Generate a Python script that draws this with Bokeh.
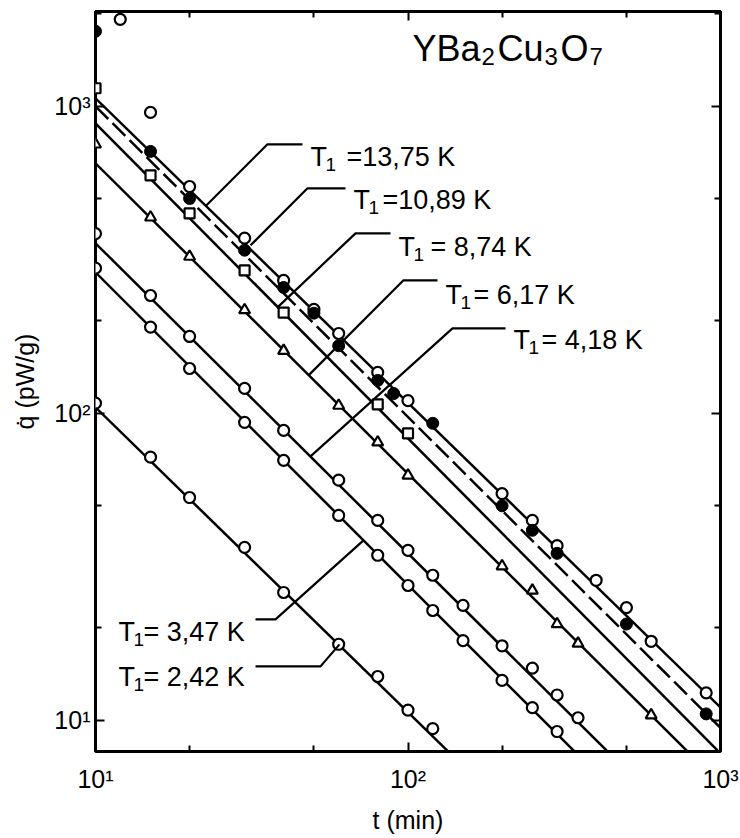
import numpy as np
from bokeh.plotting import figure
from bokeh.models import FixedTicker, LogAxis, Label
from bokeh.embed import file_html
from bokeh.resources import INLINE

# ---------------- data ----------------
t_1375 = [12, 15, 20, 30, 40, 50, 60, 80, 100, 200, 250, 300, 400, 500, 600, 900]
q_1375 = [1920, 955, 548, 372, 271, 218, 182, 136, 110, 54.8, 44.8, 37.1, 28.6, 23.3, 18.1, 12.3]

t_1089 = [10, 15, 20, 30, 40, 50, 60, 80, 90, 120, 200, 250, 300, 500, 900]
q_1089 = [1755, 713, 501, 340, 257, 212, 166, 128, 116, 92.8, 50, 41.6, 35, 20.6, 10.5]

t_874 = [10, 15, 20, 30, 40, 80, 100]
q_874 = [1145, 596, 448, 292, 213, 107, 86]

t_617 = [10, 15, 20, 30, 40, 60, 80, 100, 200, 250, 300, 350, 600]
q_617 = [752, 435, 324, 217, 160, 106, 80.5, 62.8, 31.8, 26.5, 20.6, 17.8, 10.4]

t_418 = [10, 15, 20, 30, 40, 60, 80, 100, 120, 150, 200, 250, 300, 350]
q_418 = [385, 242, 178, 120.6, 88, 60.6, 44.8, 35.8, 29.7, 23.7, 17.5, 14.8, 12.1, 10.2]

t_347 = [10, 15, 20, 30, 40, 60, 80, 100, 120, 150, 200, 250, 300]
q_347 = [297, 191, 140, 93.5, 70.3, 46.5, 34.5, 27.5, 22.8, 18.2, 13.5, 11.0, 9.2]

t_242 = [10, 15, 20, 30, 40, 60, 80, 100, 120]
q_242 = [108, 72, 53.2, 36.6, 26.1, 17.7, 13.9, 10.8, 9.4]

# fitted straight lines q = q10 * (t/10)^(-n)
fit_names = ["13,75", "10,89", "8,74", "6,17", "4,18", "3,47", "2,42"]
fit_q10 = [1062, 1000, 880, 652, 358, 288, 104.6]
fit_n = [0.992, 1.012, 1.026, 1.011, 1.010, 1.018, 0.993]
fit_dash = ["solid", "18 6", "solid", "solid", "solid", "solid", "solid"]

x_ticks = [10, 100, 1000]
x_tick_labels = ["10\u00b9", "10\u00b2", "10\u00b3"]
y_ticks = [10, 100, 1000]
y_tick_labels = ["10\u00b9", "10\u00b2", "10\u00b3"]

# ---------------- figure ----------------
FONT = "Liberation Sans"
L, R, T, B = 95, 720, 11, 751
p = figure(frame_width=R - L, frame_height=B - T,
           min_border_left=L, min_border_right=740 - R,
           min_border_top=T, min_border_bottom=838 - B,
           x_axis_type="log", y_axis_type="log",
           x_range=(10, 1000), y_range=(7.92, 2036),
           output_backend="svg", toolbar_location=None)
p.background_fill_color = "white"
p.border_fill_color = "white"
p.grid.visible = False
p.outline_line_color = "black"
p.outline_line_width = 3


def px_t(px):
    return 10 ** (1 + (px - L) / 312.5)


def py_q(py):
    return 10 ** (3 - (py - 106) / 307.0)


xminor = [20, 50, 200, 500]
yminor = [20, 50, 200, 500, 2000]

xa = p.xaxis[0]
ya = p.yaxis[0]
xa.ticker = FixedTicker(ticks=x_ticks, minor_ticks=xminor)
xa.major_label_overrides = {v: s for v, s in zip(x_ticks, x_tick_labels)}
xa.axis_label = "t (min)"
xa.axis_label_standoff = 10
xa.major_label_standoff = 13
ya.ticker = FixedTicker(ticks=y_ticks, minor_ticks=yminor)
ya.major_label_overrides = {v: s for v, s in zip(y_ticks, y_tick_labels)}
ya.axis_label = "q\u0307 (pW/g)"
ya.axis_label_standoff = 12
ya.major_label_standoff = 5

top = LogAxis(ticker=FixedTicker(ticks=x_ticks, minor_ticks=xminor))
right = LogAxis(ticker=FixedTicker(ticks=y_ticks, minor_ticks=yminor))
p.add_layout(top, "above")
p.add_layout(right, "right")

for ax in [xa, ya, top, right]:
    ax.axis_line_color = None
    ax.major_tick_in = 9
    ax.major_tick_out = 0
    ax.minor_tick_in = 6
    ax.minor_tick_out = 0
    ax.major_tick_line_width = 2
    ax.minor_tick_line_width = 2
    ax.major_tick_line_color = "black"
    ax.minor_tick_line_color = "black"
    ax.major_label_text_font = FONT
    ax.major_label_text_font_size = "25px"
    ax.major_label_text_color = "black"
    ax.axis_label_text_font = FONT
    ax.axis_label_text_font_size = "25px"
    ax.axis_label_text_font_style = "normal"
    ax.axis_label_text_color = "black"
for ax in [top, right]:
    ax.major_label_text_font_size = "1px"
    ax.major_label_text_alpha = 0
    ax.major_label_standoff = 0

# fit lines
tt = np.array([10.0, 1000.0])
for q10, n, dash in zip(fit_q10, fit_n, fit_dash):
    p.line(tt, q10 * (tt / 10.0) ** (-n), line_color="black", line_width=2.5, line_dash=dash)

# points
open_kw = dict(size=11, line_color="black", line_width=2.2, fill_color="white")
p.scatter(t_1375, q_1375, marker="circle", **open_kw)
p.scatter(t_1089, q_1089, marker="circle", size=12, line_color="black", fill_color="black")
p.scatter(t_874, q_874, marker="square", size=10, line_color="black", line_width=2.2, fill_color="white")
p.scatter(t_617, q_617, marker="triangle", size=11, line_color="black", line_width=2.2, fill_color="white")
p.scatter(t_418, q_418, marker="circle", **open_kw)
p.scatter(t_347, q_347, marker="circle", **open_kw)
p.scatter(t_242, q_242, marker="circle", **open_kw)

# leader lines (pixel positions of the annotation drawing)
leaders = [
    [(302, 144), (267, 144), (205, 206)],
    [(345, 188), (307, 188), (250, 245)],
    [(390, 233), (355, 233), (277, 307)],
    [(437, 280), (403, 280), (308, 375)],
    [(505, 328), (452, 328), (310, 456)],
    [(255, 619), (275, 619), (363, 540)],
    [(255, 666), (320, 666), (339, 644)],
]
for pts in leaders:
    p.line([px_t(a) for a, b in pts], [py_q(b) for a, b in pts], line_color="black", line_width=2.2)


def put(px, py, text, size, align="left"):
    p.add_layout(Label(x=px_t(px), y=py_q(py), text=text, text_font=FONT, text_font_size=size,
                       text_baseline="alphabetic", text_align=align, text_color="black"))


# T1 labels: "T", a lowered "1", then the rest
label_rest = ["=13,75 K", "=10,89 K", "= 8,74 K", "= 6,17 K", "= 4,18 K", "= 3,47 K", "= 2,42 K"]
label_pos = [(310, 157), (353, 200), (398, 247), (445, 295), (513, 340), (118, 632), (118, 677)]
rest_gap = [36, 29, 32, 28, 28, 25, 25]
for rest, (a, b), g in zip(label_rest, label_pos, rest_gap):
    put(a, b, "T", "27px")
    put(a + 15, b + 7, "1", "19px")
    put(a + g, b, rest, "27px")

# title  YBa2Cu3O7 with lowered subscripts
put(412, 48, "YBa", "36px")
put(481, 56, "2", "24px")
put(497, 48, "Cu", "36px")
put(544, 56, "3", "24px")
put(560, 48, "O", "36px")
put(589, 56, "7", "24px")

open("out.html", "w").write(file_html(p, INLINE))
